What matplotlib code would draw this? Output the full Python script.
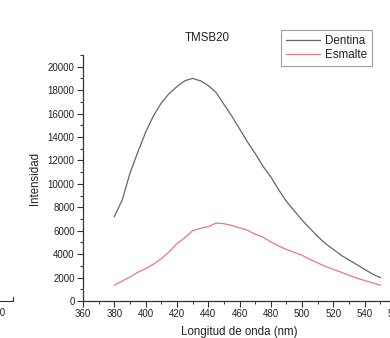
import matplotlib
matplotlib.use("Agg")
import matplotlib.pyplot as plt
from matplotlib.ticker import MultipleLocator

plt.rcParams['font.family'] = ['Liberation Sans', 'DejaVu Sans']

# wavelength (nm), sampled every 5 nm
wavelength = [380, 385, 390, 395, 400, 405, 410, 415, 420, 425, 430, 435,
              440, 445, 450, 455, 460, 465, 470, 475, 480, 485, 490, 495,
              500, 505, 510, 515, 520, 525, 530, 535, 540, 545, 550]

dentina = [7200, 8600, 10900, 12700, 14400, 15800, 16900, 17700, 18300, 18800,
           19000, 18800, 18400, 17800, 16800, 15800, 14700, 13600, 12600, 11500,
           10600, 9500, 8500, 7700, 6900, 6200, 5500, 4900, 4400, 3900,
           3500, 3100, 2700, 2300, 2000]

esmalte = [1350, 1700, 2050, 2450, 2750, 3150, 3600, 4200, 4900, 5400,
           6000, 6200, 6350, 6650, 6600, 6450, 6250, 6050, 5700, 5450,
           5050, 4700, 4400, 4150, 3900, 3550, 3250, 2950, 2700, 2450,
           2200, 1950, 1750, 1550, 1350]

W, H = 390, 338
fig = plt.figure(figsize=(W / 100, H / 100), dpi=100)

txt = '#222222'

# main axes (right part runs past the image edge, like the cropped scan)
ax = fig.add_axes([83 / W, 1 - 301 / H, 313 / W, 246 / H])
ax.plot(wavelength, dentina, color='#666666', lw=0.9, label='Dentina')
ax.plot(wavelength, esmalte, color='#e8797f', lw=0.9, label='Esmalte')
ax.set_xlim(360, 560)
ax.set_ylim(0, 21000)
ax.xaxis.set_major_locator(MultipleLocator(20))
ax.xaxis.set_minor_locator(MultipleLocator(10))
ax.set_yticks(range(0, 20001, 2000))
ax.yaxis.set_minor_locator(MultipleLocator(1000))
for s in ['top', 'right']:
    ax.spines[s].set_visible(False)
for s in ['left', 'bottom']:
    ax.spines[s].set_color('#333333')
    ax.spines[s].set_linewidth(0.9)
ax.tick_params(which='major', direction='out', length=4, width=0.8,
               labelsize=7, colors='#333333', labelcolor=txt, pad=2)
ax.tick_params(which='minor', direction='out', length=2, width=0.7,
               colors='#333333')
ax.set_xlabel('Longitud de onda (nm)', fontsize=8.3, color=txt, labelpad=5)
ax.set_ylabel('Intensidad', fontsize=8.3, color=txt, labelpad=5)

leg = ax.legend(loc='upper left', bbox_to_anchor=(281 / W, 1 - 30 / H),
                bbox_transform=fig.transFigure, fontsize=8.4, frameon=True,
                fancybox=False, borderpad=0.42, handlelength=2.9,
                handletextpad=0.45, labelspacing=0.2, borderaxespad=0)
leg.get_frame().set_edgecolor('#888888')
leg.get_frame().set_linewidth(0.8)
for t in leg.get_texts():
    t.set_color(txt)

fig.text(207 / W, 1 - 38 / H, 'TMSB20', fontsize=8.3, color=txt,
         ha='center', va='center')

# sliver of the neighbouring panel at the left edge
ax2 = fig.add_axes([-60 / W, 1 - 301 / H, 73 / W, 246 / H])
ax2.set_xlim(0, 1)
ax2.set_ylim(0, 1)
for s in ['top', 'left']:
    ax2.spines[s].set_visible(False)
ax2.spines['right'].set_bounds(0, 0.016)
ax2.spines['bottom'].set_color('#333333')
ax2.spines['right'].set_color('#333333')
ax2.set_yticks([])
ax2.set_xticks([58 / 73])
ax2.set_xticklabels(['540'])
ax2.tick_params(direction='out', length=0, labelsize=7, labelcolor=txt, pad=5)
ax2.patch.set_visible(False)

fig.savefig('out.png', dpi=100)
